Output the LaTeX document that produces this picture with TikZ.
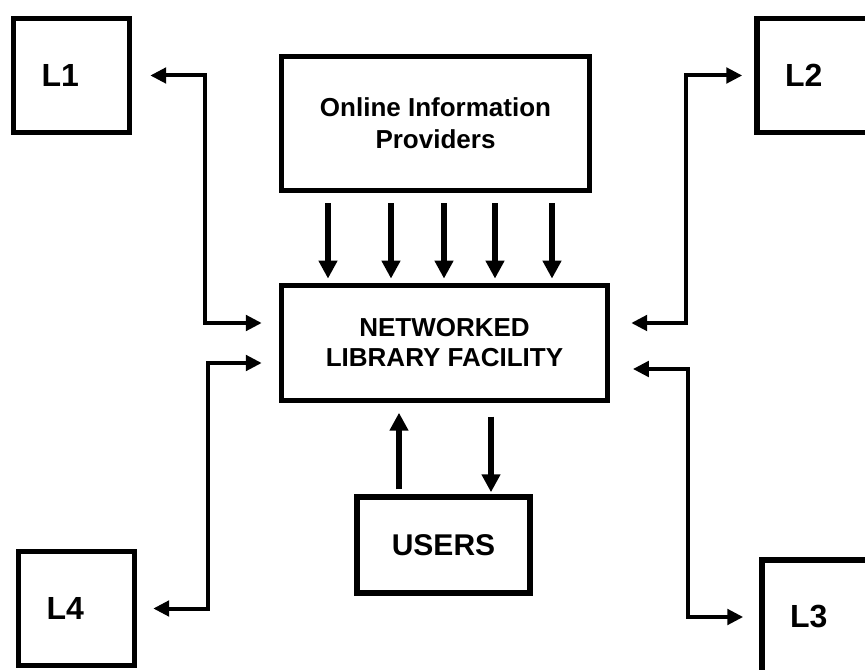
\documentclass[tikz,border=0pt]{standalone}
\usepackage{fontspec}
\setmainfont{Liberation Sans}
\usetikzlibrary{arrows.meta}

\tikzset{
  libbox/.style={draw, line width=4.1pt, minimum width=87pt, minimum height=85.5pt,
    text width=45pt, inner xsep=21pt, align=left, font=\bfseries\fontsize{24}{28}\selectfont},
  mainbox/.style={draw, line width=4.1pt, align=center, inner sep=0pt},
  flow/.style={-{Triangle[length=13.5pt,width=13.5pt]}, line width=4.2pt},
  link/.style={{Triangle[length=12pt,width=11.5pt]}-{Triangle[length=12pt,width=11.5pt]}, line width=3pt},
}

\begin{document}
\begin{tikzpicture}[x=0.75pt,y=0.75pt,yscale=-1,xscale=1]
\useasboundingbox (0,0) rectangle (865,670);
\clip (0,0) rectangle (865,670);

%Shape: Rectangle [providers]
\node[mainbox, minimum width=231pt, minimum height=100.5pt, font=\bfseries\fontsize{19.5}{24}\selectfont] (prov) at (435.5,123.5) {Online Information\\Providers};
%Shape: Rectangle [facility]
\node[mainbox, minimum width=244.5pt, minimum height=86.5pt, font=\bfseries\fontsize{19.5}{22.5}\selectfont] (fac) at (444.5,343) {NETWORKED\\LIBRARY FACILITY};
%Shape: Rectangle [users]
\node[mainbox, minimum width=129.75pt, minimum height=72pt, font=\bfseries\fontsize{22.5}{26}\selectfont] (users) at (443.5,545) {USERS};

%Shape: Rectangle [libraries]
\node[libbox] (l1) at (71.5,75.5) {L1};
\node[libbox] (l2) at (815,75.5) {L2};
\node[libbox] (l3) at (820,617) {L3};
\node[libbox] (l4) at (76.5,608.5) {L4};

%Straight Lines [providers to facility]
\foreach \x in {328,391,444,495,552}
  \draw[flow, shorten <=7.5pt, shorten >=3pt] (prov.south -| \x,0) -- (fac.north -| \x,0);

%Straight Lines [users and facility]
\draw[flow, shorten <=3.75pt, shorten >=7pt] (users.north -| 399,0) -- (fac.south -| 399,0);
\draw[flow, shorten <=10pt, shorten >=1.5pt] (fac.south -| 491,0) -- (users.north -| 491,0);

%Straight Lines [libraries and facility]
\draw[link] ([xshift=13.5pt]l1.east) -- ++(55,0) |- ([xshift=-12.75pt,yshift=-15pt]fac.west);
\draw[link] ([xshift=12pt]l4.east) -- ++(55,0) |- ([xshift=-12.75pt,yshift=15pt]fac.west);
\draw[link] ([xshift=15.75pt,yshift=-15pt]fac.east) -- ++(55,0) |- ([xshift=-9pt]l2.west);
\draw[link] ([xshift=17pt,yshift=19.5pt]fac.east) -- ++(55,0) |- ([xshift=-12pt]l3.west);

\end{tikzpicture}
\end{document}
